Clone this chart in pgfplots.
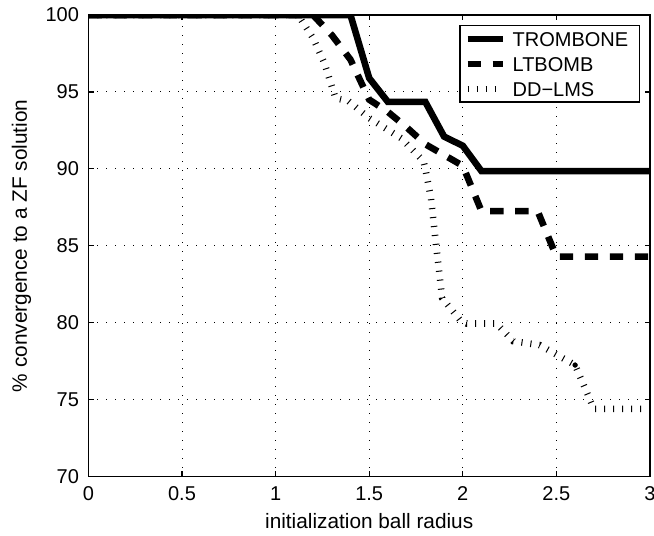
\documentclass[border=0pt]{standalone}
\usepackage{fontspec}
\setmainfont{Liberation Sans}
\usepackage{pgfplots}
\pgfplotsset{compat=1.18}
\begin{document}
\begin{tikzpicture}
\begin{axis}[
  scale only axis, width=280.8pt, height=230.8pt,
  xmin=0, xmax=3, ymin=70, ymax=100,
  xtick={0,0.5,1,1.5,2,2.5,3},
  xticklabels={0,0.5,1,1.5,2,2.5,3},
  ytick={70,75,80,85,90,95,100},
  tick align=inside, tick pos=both, major tick length=2.7pt,
  grid=major,
  grid style={black, line width=0.45pt, dash pattern=on 0.5pt off 4pt},
  axis line style={line width=0.6pt},
  tick style={line width=0.6pt, black},
  font=\fontsize{10}{12}\selectfont,
  /pgf/number format/assume math mode=true,
  xticklabel style={anchor=center, yshift=-8.5pt},
  yticklabel style={anchor=east, xshift=-1.2pt},
  xlabel={initialization ball radius},
  ylabel={\% convergence to a ZF solution},
  label style={font=\fontsize{10.4}{12}\selectfont},
  xlabel style={at={(axis description cs:0.5,-0.0954)}, anchor=center},
  ylabel style={at={(axis description cs:-0.119,0.5)}, anchor=center},
  legend cell align=left,
  legend style={at={(0.982,0.978)}, anchor=north east, draw=black, line width=0.6pt,
    font=\fontsize{10}{12}\selectfont, inner xsep=2.2pt, inner ysep=0.3pt, row sep=0pt,
    nodes={text height=7.2pt, text depth=0pt, inner ysep=2.65pt, inner xsep=3.35pt}},
  legend image code/.code={\draw[#1] (0pt,0pt) -- (17.5pt,0pt);},
]
\addplot[black, line width=3.3pt, line join=miter] coordinates {
 (0,100) (1.4,100) (1.5,95.9) (1.6,94.35) (1.8,94.35) (1.9,92.1) (2.0,91.5) (2.1,89.85) (3,89.85)};
\addlegendentry{TROMBONE}
\addplot[black, line width=3.3pt, dash pattern=on 6.7pt off 5.8pt] coordinates {
 (0,100) (1.2,100) (1.3,98.7) (1.4,97.1) (1.45,95.8) (1.5,94.5) (1.6,93.7) (1.7,92.7) (1.8,91.6) (2.0,90.2) (2.1,87.25) (2.4,87.25) (2.5,84.3) (3,84.3)};
\addlegendentry{LTBOMB}
\addplot[black, line width=3.3pt, dash pattern=on 0.5pt off 4pt, mark=*, mark size=1.2pt, mark indices={19}, mark options={solid, line width=0.2pt}] coordinates {
 (0,100) (1.12,100) (1.2,98.5) (1.26,96.9) (1.32,94.6) (1.39,94.4) (1.5,93.3) (1.67,92.0) (1.79,90.5) (1.8,90.0) (1.83,88.1) (1.855,85.3) (1.89,81.6) (1.99,80.1) (2.02,79.95) (2.18,79.95) (2.27,78.8) (2.41,78.55) (2.6,77.25) (2.7,74.4) (3,74.4)};
\addlegendentry{DD−LMS}
\coordinate (sw) at (rel axis cs:0,0);
\coordinate (ne) at (rel axis cs:1,1);
\end{axis}
\pgfresetboundingbox
\path[use as bounding box] ([xshift=-44.2pt,yshift=-29.6pt]sw) rectangle ([xshift=2pt,yshift=7.5pt]ne);
\end{tikzpicture}
\end{document}
